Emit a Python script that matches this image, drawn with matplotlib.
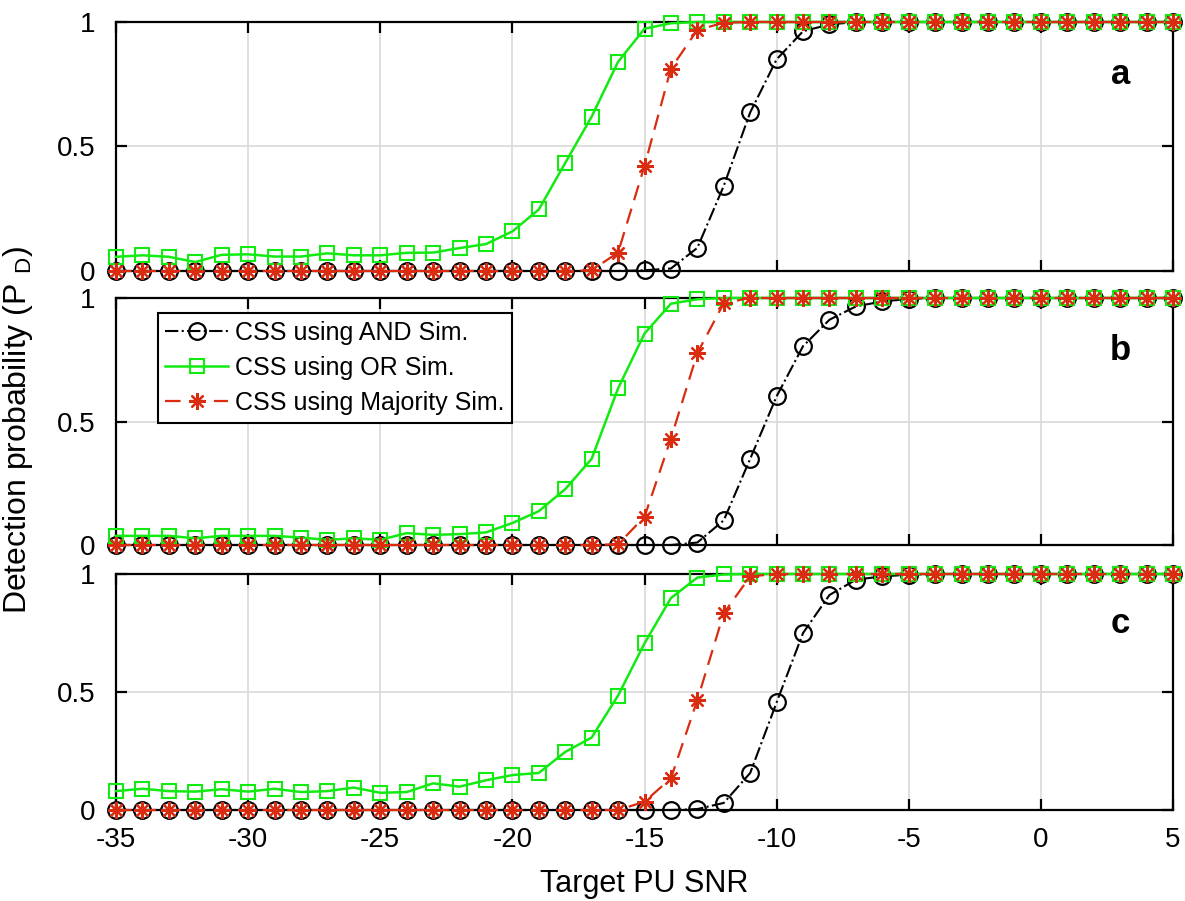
import matplotlib
matplotlib.use("Agg")
import matplotlib.pyplot as plt
from matplotlib.ticker import FuncFormatter

plt.rcParams['font.family'] = ['Liberation Sans', 'DejaVu Sans']
plt.rcParams['mathtext.fontset'] = 'custom'
plt.rcParams['mathtext.rm'] = 'Liberation Sans'
plt.rcParams['axes.unicode_minus'] = False

# ---------------- data ----------------
snr = list(range(-35, 6))

and_a = [0]*20 + [0.003, 0.010, 0.093, 0.342, 0.637, 0.850, 0.963, 0.990] + [1]*13
or_a = [0.057, 0.063, 0.057, 0.036, 0.065, 0.067, 0.058, 0.058, 0.071, 0.063,
        0.063, 0.073, 0.074, 0.092, 0.108, 0.159, 0.247, 0.434, 0.620, 0.840,
        0.973, 0.995] + [1]*19
maj_a = [0]*18 + [0.003, 0.074, 0.422, 0.813, 0.968, 0.997] + [1]*17

and_b = [0]*22 + [0.010, 0.100, 0.349, 0.602, 0.805, 0.912, 0.966, 0.986, 0.996] + [1]*10
or_b = [0.037, 0.037, 0.037, 0.027, 0.037, 0.037, 0.037, 0.030, 0.021, 0.027,
        0.021, 0.048, 0.041, 0.044, 0.051, 0.089, 0.137, 0.226, 0.349, 0.634,
        0.856, 0.977, 0.995] + [1]*18
maj_b = [0]*19 + [0.003, 0.114, 0.431, 0.777, 0.979] + [1]*17

and_c = [0]*22 + [0.004, 0.030, 0.157, 0.456, 0.750, 0.911, 0.976, 0.990, 0.997] + [1]*10
or_c = [0.080, 0.090, 0.080, 0.078, 0.088, 0.078, 0.090, 0.076, 0.080, 0.095,
        0.073, 0.076, 0.113, 0.099, 0.126, 0.148, 0.157, 0.246, 0.307, 0.485,
        0.706, 0.898, 0.985, 0.998] + [1]*17
maj_c = [0]*20 + [0.035, 0.134, 0.466, 0.834, 0.990] + [1]*16

panels = [("a", and_a, or_a, maj_a),
          ("b", and_b, or_b, maj_b),
          ("c", and_c, or_c, maj_c)]

series_labels = ["CSS using AND Sim.", "CSS using OR Sim.", "CSS using Majority Sim."]
xticks = [-35, -30, -25, -20, -15, -10, -5, 0, 5]
yticks = [0, 0.5, 1]

# ---------------- styles ----------------
GREEN = '#12ea12'
RED = '#d92c10'
W, H = 1185, 901
fig = plt.figure(figsize=(W/100, H/100), dpi=100)

rects = [(116, 22, 271), (116, 298, 545), (116, 574, 810)]
right = 1173

def fmt(v, pos):
    return '%g' % v

axes = []
for (label, a_v, o_v, m_v), (l, t, b) in zip(panels, rects):
    ax = fig.add_axes([l/W, 1 - b/H, (right - l)/W, (b - t)/H])
    axes.append(ax)
    ax.plot(snr, a_v, color='black', linestyle='-.', linewidth=1.5,
            marker='o', markersize=12, markerfacecolor='none',
            markeredgewidth=1.6, clip_on=False, label=series_labels[0], zorder=3)
    ax.plot(snr, o_v, color=GREEN, linestyle='-', linewidth=1.8,
            marker='s', markersize=10, markerfacecolor='none',
            markeredgewidth=1.5, clip_on=False, label=series_labels[1], zorder=4)
    ax.plot(snr, m_v, color=RED, linestyle=(0, (7, 4)), linewidth=1.6,
            marker=(8, 2, 0), markersize=12, markerfacecolor='none',
            markeredgewidth=1.6, clip_on=False, label=series_labels[2], zorder=5)
    ax.set_xlim(-35, 5)
    ax.set_ylim(0, 1)
    ax.set_xticks(xticks)
    ax.set_yticks(yticks)
    ax.yaxis.set_major_formatter(FuncFormatter(fmt))
    ax.grid(True, color='#d9d9d9', linewidth=1.2)
    ax.set_axisbelow(True)
    ax.tick_params(direction='in', length=8, width=1.6, top=True, right=True,
                   labelsize=20, colors='black')
    ax.tick_params(axis='y', pad=15)
    ax.tick_params(axis='x', pad=12)
    for s in ax.spines.values():
        s.set_linewidth(1.6)
        s.set_color('black')
    if label != "c":
        ax.tick_params(labelbottom=False)
    ax.text(3.0, 0.75, label, fontsize=25, fontweight='bold', ha='center',
            va='baseline', zorder=6)

leg = axes[1].legend(loc='upper left', bbox_to_anchor=(0.0397, 0.939),
                     borderaxespad=0, fontsize=18, frameon=True, fancybox=False,
                     edgecolor='black', framealpha=1, handlelength=2.5,
                     handletextpad=0.3, labelspacing=0.45, borderpad=0.3)
leg.get_frame().set_linewidth(1.5)
leg.set_zorder(10)

fig.text(644/W, 1 - 884/H, 'Target PU SNR', fontsize=22, ha='center', va='center')
fig.text(18/W, 1 - 430/H, r'Detection probability (P $_{\mathrm{D}}$)', rotation=90,
         fontsize=23, ha='center', va='center')

fig.savefig('out.png', dpi=100)
